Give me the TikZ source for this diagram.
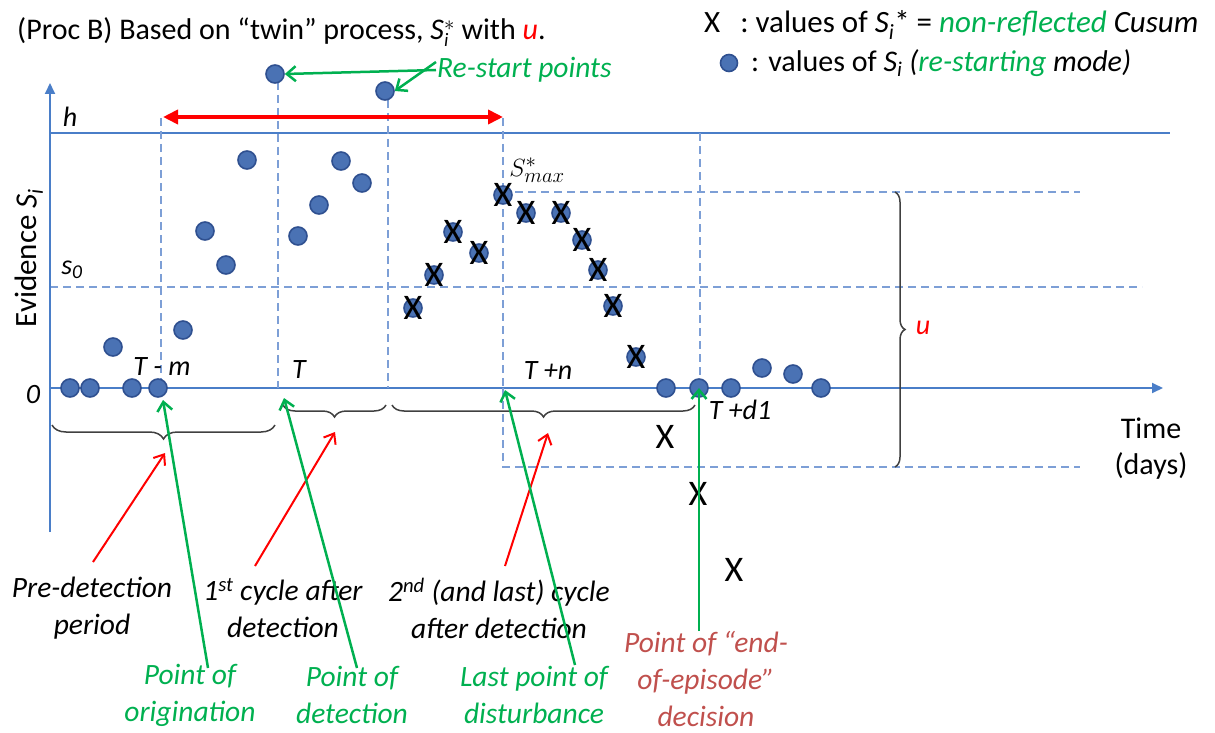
\documentclass[tikz,border=0pt]{standalone}
\usepackage{fontspec}
\setmainfont{Carlito}
\usetikzlibrary{arrows.meta,decorations.pathreplacing}
\definecolor{axblue}{HTML}{4A7EC8}
\definecolor{dashblue}{HTML}{7D9FD6}
\definecolor{dotfill}{HTML}{4A72B4}
\definecolor{dotedge}{HTML}{2F5090}
\definecolor{grn}{HTML}{00B050}
\definecolor{epired}{HTML}{C0504D}
\definecolor{brc}{HTML}{404040}
\newcommand{\Si}{\textit{S}\textsubscript{\textit{i}}}
\begin{document}
\begin{tikzpicture}[x=1pt,y=-1pt,
  dot/.style={circle,fill=dotfill,draw=dotedge,line width=1.6pt,minimum size=18pt,inner sep=0pt},
  xm/.style={font=\fontsize{36}{36}\selectfont,inner sep=0pt,text=black},
  lbl/.style={font=\fontsize{29.5}{37}\selectfont\itshape,align=center,inner sep=1pt},
  tl/.style={font=\fontsize{28}{32}\selectfont\itshape,inner sep=0pt},
  txt/.style={font=\fontsize{30}{34}\selectfont,inner sep=0pt},
  axis/.style={axblue,line width=1.8pt},
  dsh/.style={dashblue,line width=1.3pt,dash pattern=on 8pt off 5pt},
  brace/.style={brc,line width=1.5pt,decorate,decoration={brace,amplitude=#1}},
  redarr/.style={red,line width=2pt,-{Straight Barb[length=9pt,width=14pt]}},
  grnarr/.style={grn,line width=2.5pt,-{Straight Barb[length=9pt,width=15pt]}}
]
\useasboundingbox (0,0) rectangle (1215,733);

% title and legend
\node[txt,anchor=west] (title) at (17,32) {(Proc B) Based on “twin” process, \textit{S}$^{*}_{\mbox{\fontsize{19}{19}\selectfont\itshape i}}$ with \textcolor{red}{\textit{u}}.};
\node[txt,anchor=west,font=\fontsize{31}{34}\selectfont] (lg1) at (704,25) {X\hspace{20pt}: values of \Si* = \textcolor{grn}{\textit{non-reflected}} \textit{Cusum}};
\node[dot,minimum size=17pt] (lgdot) at (729,63) {};
\node[txt,anchor=west] (lg2) at (751,63) {: values of \Si{} \textit{(\textcolor{grn}{re-starting} mode)}};

% axes
\coordinate (o) at (50,388);
\coordinate (ytop) at (50,83);
\coordinate (ybot) at (50,532);
\coordinate (xend) at (1163,388);
\draw[axis,line width=1.6pt] (50,133) -- (1170,133);
\draw[dsh] (50,287) -- (1142,287);
\draw[axis,-{Triangle[length=11pt,width=10pt]}] (ybot) -- (ytop);
\draw[axis,-{Triangle[length=11pt,width=10pt]}] (o) -- (xend);

\node[tl] (hl) at (70,117) {h};
\node[tl] (s0) at (72,270) {s\textsubscript{0}};
\node[tl] (zero) at (33,395) {0};
\node[font=\fontsize{31}{34}\selectfont,rotate=90,inner sep=0pt] (ev) at (29,258) {Evidence \Si};
\node[font=\fontsize{30}{36}\selectfont,align=center,inner sep=0pt] (time) at (1151,449) {Time\\(days)};

% vertical dashed lines
\draw[dsh] (161,118) -- (161,388);
\draw[dsh] (278,82) -- (278,388);
\draw[dsh] (388,100) -- (388,388);
\draw[dsh] (503,118) -- (503,388);
\draw[dsh] (700,133) -- (700,388);
% u box
\draw[dsh] (515,192) -- (1080,192);
\draw[dsh] (503,388) -- (503,467) -- (1080,467);

% red double arrow
\draw[red,line width=4pt,{Triangle[length=15pt,width=14pt]}-{Triangle[length=15pt,width=14pt]}] (163,117) -- (503,117);

% dots
\foreach \n/\x/\y in {a1/70/388,a2/90/388,a3/132/388,a4/158/388,a5/113/347,a6/183/330,a7/205/231,a8/226/265,a9/247/160,r1/275/74,
  b1/298/236,b2/319/205,b3/341/161,b4/362/183,r2/385/91,
  c6/666/388,c7/699/388,c8/731/388,c9/762/368,c10/793/374,c11/821/388}
  \node[dot] (\n) at (\x,\y) {};
\foreach \n/\x/\y in {k1/413/308,k2/434/275,k3/453/232,k4/479/253,k5/503/195,k6/526/213,k7/561/213,k8/582/240,k9/598/270,k10/613/306,k11/636/357}
  {\node[dot] (\n) at (\x,\y) {};
   \node[xm] (x\n) at (\n) {X};}
\node[xm] (xa) at (665,437) {X};
\node[xm] (xb) at (698,494) {X};
\node[xm] (xc) at (734,570) {X};

% axis labels
\node[tl] (tm) at (162,367) {T - m};
\node[tl] (tt) at (299,370) {T};
\node[tl] (tn) at (548,371) {T +n};
\node[tl] (td) at (740,410) {T +d1};
\node[font=\fontsize{28}{32}\selectfont,inner sep=0pt] (smax) at (537,170) {$S^*_{max}$};

% braces
\draw[brace=14pt] (275,425) -- (52,425);
\draw[brace=12pt] (386,405) -- (283,405);
\draw[brace=12pt] (695,405) -- (392,405);
\draw[brace=10pt] (895,192) -- (895,467);
\node[tl,text=red] (u) at (923,328) {u};

\coordinate (tpre) at (165,453);
\coordinate (tc1) at (335,432);
\coordinate (tc2) at (548,433);

% bottom labels
\node[lbl] (pre) at (92,608) {Pre-detection\\period};
\node[lbl] (c1) at (283,608) {1\textsuperscript{st} cycle after\\detection};
\node[lbl] (c2) at (499,608) {2\textsuperscript{nd} (and last) cycle\\after detection};
\node[lbl,text=grn] (po) at (190,695) {Point of\\origination};
\node[lbl,text=grn] (pd) at (352,695) {Point of\\detection};
\node[lbl,text=grn] (lp) at (534,695) {Last point of\\disturbance};
\node[lbl,text=epired,inner sep=0pt] (ee) at (706,679) {Point of “end-\\of-episode”\\decision};
\node[lbl,text=grn,anchor=west] (rs) at (436,70) {Re-start points};

% red arrows
\draw[redarr] (93,562) -- (tpre);
\draw[redarr] (255,566) -- (tc1);
\draw[redarr] (505,566) -- (tc2);

% green arrows
\coordinate (g1) at (208,668);
\coordinate (g2) at (357,668);
\coordinate (g3) at (575,665);
\draw[grnarr] (g1) -- (163,400);
\draw[grnarr] (g2) -- (284,398);
\draw[grnarr] (g3) -- (505,390);
\draw[grnarr] (ee.north -| c7) -- (c7.center);
\draw[grnarr] (rs.west) -- (r1.east);
\draw[grnarr] ([yshift=8pt]rs.west) -- (r2.east);
\end{tikzpicture}
\end{document}
